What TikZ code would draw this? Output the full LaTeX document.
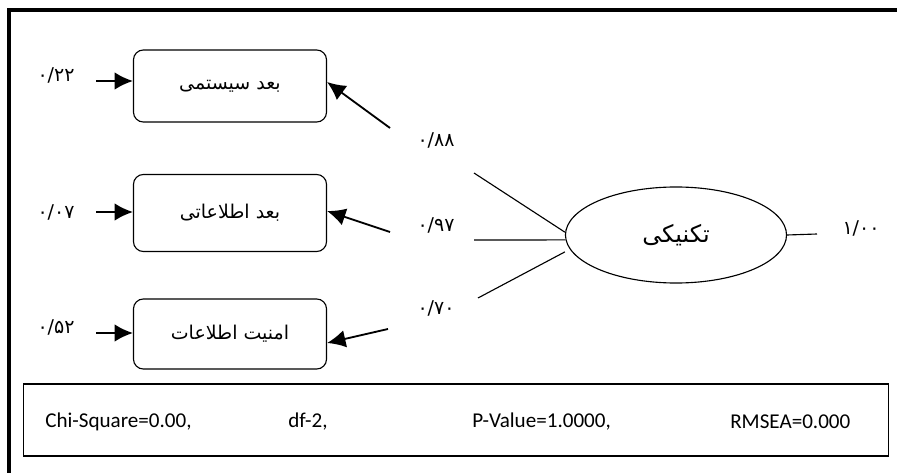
\documentclass[tikz,border=0pt]{standalone}
\usepackage{fontspec}
\setmainfont{Carlito}
\newfontfamily\farsi[Script=Arabic]{DejaVu Sans}
\TeXXeTstate=1
\usepackage{tikz}
\usetikzlibrary{arrows.meta,shapes,positioning}

\newcommand{\fa}[1]{\beginR #1\endR}

\tikzset{
  dimbox/.style={draw, line width=0.8pt, rounded corners=7pt, minimum width=4.825cm, inner sep=0pt,
    font=\farsi\fontsize{13.5}{16}\selectfont},
  coef/.style={inner sep=0pt, font=\farsi\fontsize{13.5}{16}\selectfont},
  load/.style={-{Latex[length=4.6mm,width=4.4mm]}, line width=1.3pt},
  stat/.style={anchor=west, inner sep=0pt, font=\fontsize{15}{18}\selectfont}
}

\begin{document}
\begin{tikzpicture}[x=0.025cm, y=-0.025cm]
\useasboundingbox (0,0) rectangle (897,473);
\draw [line width=2.2pt] (897,10) -- (9,10) -- (9,473);

% observed dimensions
\node [dimbox, minimum height=1.8cm] (sys) at (230,86) {\fa{بعد سیستمی}};
\node [dimbox, minimum height=1.925cm] (inf) at (230,213) {\fa{بعد اطلاعاتی}};
\node [dimbox, minimum height=1.75cm] (sec) at (230,334) {\fa{امنیت اطلاعات}};

% latent factor
\node [draw, line width=0.8pt, ellipse, minimum width=5.525cm, minimum height=2.4cm, inner sep=0pt,
  font=\farsi\fontsize{17}{20}\selectfont] (tech) at (676,235) {\fa{تکنیکی}};

% error terms
\coordinate (e1) at (96,81);
\coordinate (e2) at (96,212);
\coordinate (e3) at (96,333);
\draw [load] (e1) -- (e1 -| sys.west);
\draw [load] (e2) -- (e2 -| inf.west);
\draw [load] (e3) -- (e3 -| sec.west);
\node [coef] (r1) at (56,75) {۰/۲۲};
\node [coef] (r2) at (56,212) {۰/۰۷};
\node [coef] (r3) at (56,327) {۰/۵۲};

% loadings
\coordinate (a1) at (390,128);
\coordinate (a2) at (390,232);
\coordinate (a3) at (388,329);
\draw [load] (a1) -- (sys.east |- 0,82);
\draw [load] (a2) -- (inf.east |- 0,211);
\draw [load] (a3) -- (sec.east |- 0,343);
\node [coef] (l1) at (436,140) {۰/۸۸};
\node [coef] (l2) at (436,225) {۰/۹۷};
\node [coef] (l3) at (436,308) {۰/۷۰};

\coordinate (b1) at (474,173);
\coordinate (b2) at (474,240);
\coordinate (b3) at (478,298);
\draw [thick] (b1) -- ([yshift=2pt]tech.west);
\draw [thick] (b2) -- ([yshift=-3.5pt]tech.west);
\draw [thick] (b3) -- ([yshift=-12pt]tech.west);

\coordinate (v) at (817,234);
\draw [thick] (tech.east) -- (v);
\node [coef] (var) at (861,228) {۱/۰۰};

% fit indices
\node [draw, thick, minimum width=21.6cm, minimum height=1.8cm, inner sep=0pt] (fit) at (456,420) {};
\node [stat] (chi) at (45,422) {Chi-Square=0.00,};
\node [stat] (df) at (288,422) {df-2,};
\node [stat] (pv) at (472,422) {P-Value=1.0000,};
\node [stat] (rmsea) at (730,422) {RMSEA=0.000};
\end{tikzpicture}
\end{document}
